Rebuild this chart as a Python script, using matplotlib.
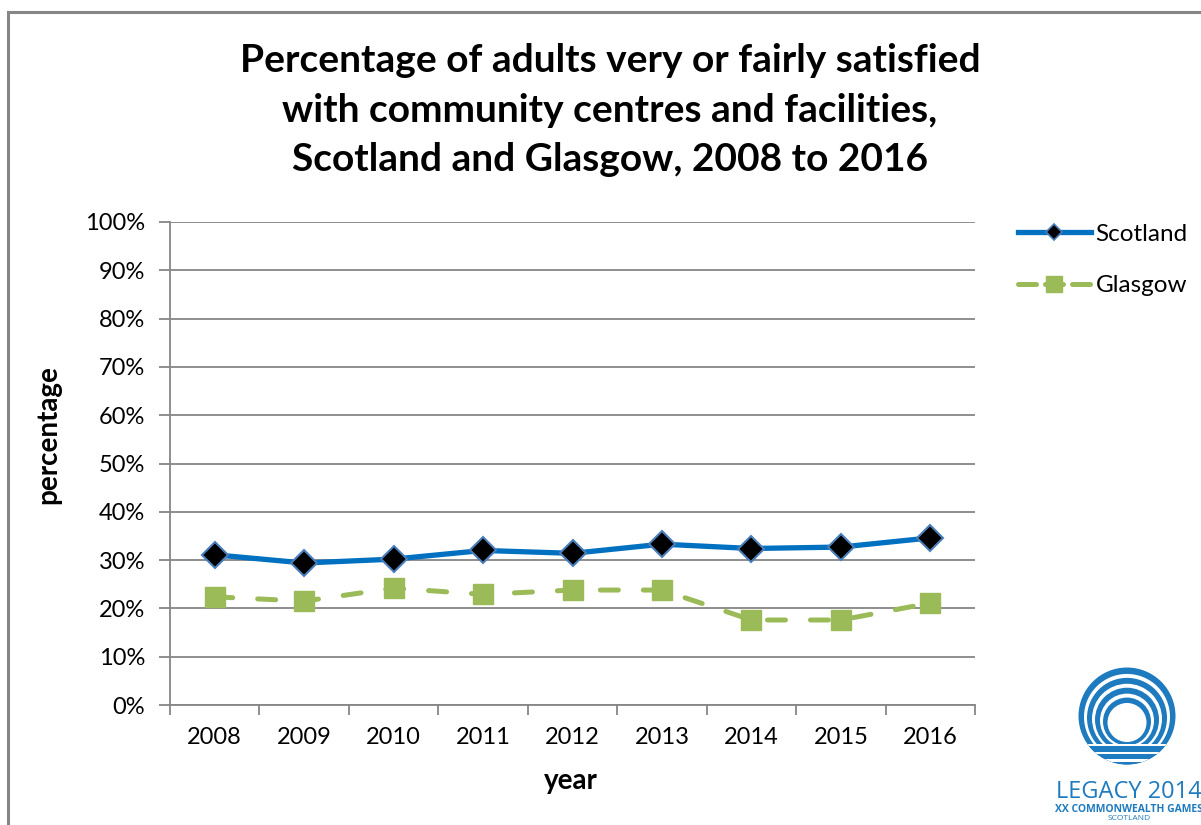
import numpy as np
import matplotlib.pyplot as plt
from matplotlib.lines import Line2D
from matplotlib.patches import Circle, Rectangle

plt.rcParams['font.family'] = ['Lato', 'DejaVu Sans']

years = ['2008', '2009', '2010', '2011', '2012', '2013', '2014', '2015', '2016']
scotland = [31.1, 29.4, 30.2, 32.0, 31.4, 33.3, 32.4, 32.7, 34.6]
glasgow = [22.4, 21.5, 24.2, 22.9, 23.8, 23.8, 17.6, 17.6, 21.1]
yticks = [0, 10, 20, 30, 40, 50, 60, 70, 80, 90, 100]

W, H = 1201, 825
blue = '#0070C0'
green = '#9BBB59'
grid = '#868686'


def fx(x):
    return x / W


def fy(y):
    return 1 - y / H


fig = plt.figure(figsize=(W / 100, H / 100), dpi=100)

# outer chart border (left and top visible)
fig.patches.append(Rectangle((fx(8), fy(900)), fx(1300), fy(12) - fy(900),
                             transform=fig.transFigure, fill=False,
                             edgecolor='#868686', linewidth=2.2))

ax = fig.add_axes([fx(170), fy(705), fx(975 - 170), fy(222) - fy(705)])
x = np.arange(len(years))

ax.plot(x, scotland, color=blue, lw=3.8, marker='D', ms=13,
        mfc='black', mec='#4a7ebb', mew=1.5, zorder=4)
ax.plot(x, glasgow, color=green, lw=3.6, dashes=(3.6, 5.0),
        dash_capstyle='round', marker='s', ms=15, mfc=green, mec=green,
        zorder=3)

ax.set_xlim(-0.5, len(years) - 0.5)
ax.set_ylim(0, 100)
ax.set_yticks(yticks)
ax.set_yticklabels([f'{v}%' for v in yticks])
ax.yaxis.grid(True, color=grid, lw=1.3)
ax.set_axisbelow(True)

ax.set_xticks(np.arange(-0.5, len(years)), minor=False)
ax.set_xticklabels([])
ax.set_xticks(x, minor=True)
ax.set_xticklabels(years, minor=True)
ax.tick_params(axis='x', which='major', length=7, width=1.3, color=grid,
               direction='out')
ax.tick_params(axis='x', which='minor', length=0, pad=16, labelsize=17)
ax.tick_params(axis='y', length=8, width=1.3, color=grid, pad=10,
               labelsize=17)

for s in ['top', 'right']:
    ax.spines[s].set_visible(False)
for s in ['left', 'bottom']:
    ax.spines[s].set_color(grid)
    ax.spines[s].set_linewidth(1.3)

fig.text(fx(610), fy(110), 'Percentage of adults very or fairly satisfied\n'
         'with community centres and facilities,\n'
         'Scotland and Glasgow, 2008 to 2016',
         ha='center', va='center', fontsize=28, fontweight='bold',
         linespacing=1.5)
fig.text(fx(48), fy(435), 'percentage', rotation=90, ha='center',
         va='center', fontsize=20, fontweight='bold')
fig.text(fx(571), fy(781), 'year', ha='center', va='center', fontsize=20,
         fontweight='bold')

handles = [
    Line2D([], [], color=blue, lw=3.8, marker='D', ms=8, mfc='black',
           mec='#4a7ebb', mew=1.2),
    Line2D([], [], color=green, lw=3.6, dashes=(3.6, 1.8),
           dash_capstyle='round', marker='s', ms=11, mfc=green, mec=green),
]
fig.legend(handles, ['Scotland', 'Glasgow'], loc='upper left',
           bbox_to_anchor=(fx(1008), fy(214)), frameon=False, fontsize=17.5,
           handlelength=3.0, handletextpad=0.2, labelspacing=1.25,
           borderaxespad=0)

# Legacy 2014 logo
lg = fig.add_axes([fx(1070), fy(780), fx(120), fy(665) - fy(780)])
lg.set_xlim(-60, 60)
lg.set_ylim(-57.5, 57.5)
lg.set_aspect('equal')
lg.axis('off')
logo = '#1f7bbf'
cx = -3
rings = [(48.5, logo), (43, 'white'), (40, logo), (35, 'white'),
         (32, logo), (27, 'white'), (24, logo), (19.5, 'white')]
for i, (r, c) in enumerate(rings):
    cy = 6.5 - 6.5 * i / (len(rings) - 1)
    lg.add_patch(Circle((cx, cy), r, color=c, lw=0))
clip = Circle((cx, 6.5), 48.5, transform=lg.transData)
band = Rectangle((-60, -57.5), 120, 36, color=logo, lw=0)
lg.add_patch(band)
band.set_clip_path(clip)
for yy in [-22.5, -30.5, -38, -45]:
    ln = Rectangle((-60, yy - 1.3), 120, 2.6, color='white', lw=0)
    lg.add_patch(ln)
    ln.set_clip_path(clip)
fig.text(fx(1129), fy(792), 'LEGACY 2014', ha='center', va='center',
         fontsize=17, color=logo, fontfamily=['Open Sans', 'DejaVu Sans'])
fig.text(fx(1129), fy(810), 'XX COMMONWEALTH GAMES', ha='center',
         va='center', fontsize=7.5, color=logo, fontweight='bold',
         fontfamily=['Open Sans', 'DejaVu Sans'])
fig.text(fx(1129), fy(819), 'SCOTLAND', ha='center', va='center',
         fontsize=6, color=logo, fontfamily=['Open Sans', 'DejaVu Sans'])

fig.savefig('out.png', dpi=100)
